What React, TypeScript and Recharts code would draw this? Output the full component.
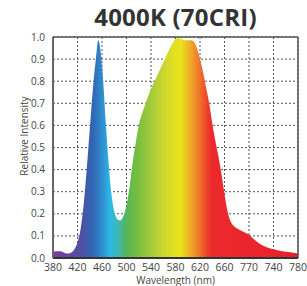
import React from 'react';
import { AreaChart, Area, XAxis, YAxis, CartesianGrid, ReferenceLine } from 'recharts';

// spectrum (nm -> relative intensity)
const wavelengths = [
  380, 385, 390, 395, 400, 405, 410, 415, 420, 425, 430, 435, 440, 445, 450, 454, 458, 462, 466, 470,
  475, 480, 485, 490, 495, 500, 505, 510, 515, 520, 525, 530, 535, 540, 545, 550, 555, 560, 565, 570,
  575, 580, 585, 590, 595, 600, 605, 610, 615, 620, 625, 630, 635, 640, 645, 650, 655, 660, 665, 670,
  675, 680, 690, 700, 710, 720, 730, 740, 750, 760, 770, 780,
];
const intensity = [
  0.025, 0.03, 0.03, 0.028, 0.022, 0.02, 0.025, 0.04, 0.07, 0.13, 0.24, 0.4, 0.58, 0.76, 0.9, 0.985, 0.93, 0.8, 0.62, 0.46,
  0.3, 0.21, 0.175, 0.17, 0.19, 0.24, 0.32, 0.43, 0.52, 0.6, 0.65, 0.69, 0.73, 0.765, 0.795, 0.825, 0.855, 0.885, 0.915, 0.945,
  0.97, 0.99, 0.995, 0.99, 0.985, 0.985, 0.985, 0.98, 0.95, 0.9, 0.84, 0.77, 0.7, 0.61, 0.53, 0.46, 0.38, 0.29, 0.21, 0.165,
  0.145, 0.135, 0.12, 0.105, 0.08, 0.06, 0.048, 0.04, 0.033, 0.028, 0.025, 0.02,
];

const xTicks = [380, 420, 460, 500, 540, 580, 620, 660, 700, 740, 780];
const xTickLabels = ['380', '420', '460', '500', '540', '580', '620', '660', '770', '740', '780'];
const yTicks = [0, 0.1, 0.2, 0.3, 0.4, 0.5, 0.6, 0.7, 0.8, 0.9, 1.0];

// colour of the fill at a given wavelength
const spectrumNm = [380, 405, 425, 445, 460, 473, 485, 500, 512, 540, 565, 588, 605, 622, 638, 780];
const spectrumColors = [
  '#7b3c9c', '#6a44a0', '#4e4fa4', '#3166b4', '#2e8ccc', '#2bb9e8', '#3cb8b8', '#55b65a', '#6cbc45',
  '#a3cb3a', '#d2da2c', '#ebe41b', '#f0a82a', '#ee6a2a', '#ec2a2c', '#e8202c',
];

const data = wavelengths.map((nm, i) => ({ nm, value: intensity[i] }));

export default function App() {
  return (
    <div style={{ position: 'absolute', left: 0, top: 0, width: 307, height: 286, background: '#fff', fontFamily: '"Open Sans", sans-serif' }}>
      <div
        style={{
          position: 'absolute', left: 22, top: 2, width: 307, textAlign: 'center',
          fontSize: 24, fontWeight: 700, color: '#333', lineHeight: '30px', letterSpacing: 0.2,
        }}
      >
        4000K (70CRI)
      </div>
      <div style={{ position: 'absolute', left: 0, top: 0 }}>
        <AreaChart width={307} height={286} data={data} margin={{ top: 37, right: 9, bottom: 0, left: 0 }}>
          <defs>
            <linearGradient id="spectrum" x1="0" y1="0" x2="1" y2="0">
              {spectrumNm.map((nm, i) => (
                <stop key={nm} offset={`${((nm - 380) / 400) * 100}%`} stopColor={spectrumColors[i]} />
              ))}
            </linearGradient>
          </defs>
          <CartesianGrid stroke="#555" strokeDasharray="2 2" horizontalValues={yTicks} verticalValues={xTicks} />
          <XAxis
            dataKey="nm"
            type="number"
            domain={[380, 780]}
            ticks={xTicks}
            interval={0}
            tickFormatter={(v: number) => xTickLabels[xTicks.indexOf(v)]}
            tick={{ fontSize: 10.5, fill: '#444' }}
            tickMargin={0}
            tickLine={false}
            axisLine={{ stroke: '#333', strokeWidth: 2 }}
            height={28}
            label={{ value: 'Wavelength (nm)', position: 'insideBottom', offset: 2, style: { fontSize: 10, fill: '#444' } }}
          />
          <YAxis
            type="number"
            domain={[0, 1]}
            ticks={yTicks}
            interval={0}
            tickFormatter={(v: number) => v.toFixed(1)}
            tick={{ fontSize: 10, fill: '#444' }}
            tickLine={false}
            axisLine={{ stroke: '#666', strokeWidth: 2 }}
            width={53}
            label={{
              content: () => (
                <text x={24} y={136} transform="rotate(-90 24 136)" textAnchor="middle" dominantBaseline="central" fontSize={10} fill="#444">
                  Relative Intensity
                </text>
              ),
            }}
          />
          <Area
            type="monotone"
            dataKey="value"
            stroke="none"
            fill="url(#spectrum)"
            fillOpacity={1}
            isAnimationActive={false}
          />
          <ReferenceLine y={1} stroke="#555" strokeWidth={1.5} />
          <ReferenceLine x={780} stroke="#555" strokeWidth={1.5} />
        </AreaChart>
      </div>
    </div>
  );
}
